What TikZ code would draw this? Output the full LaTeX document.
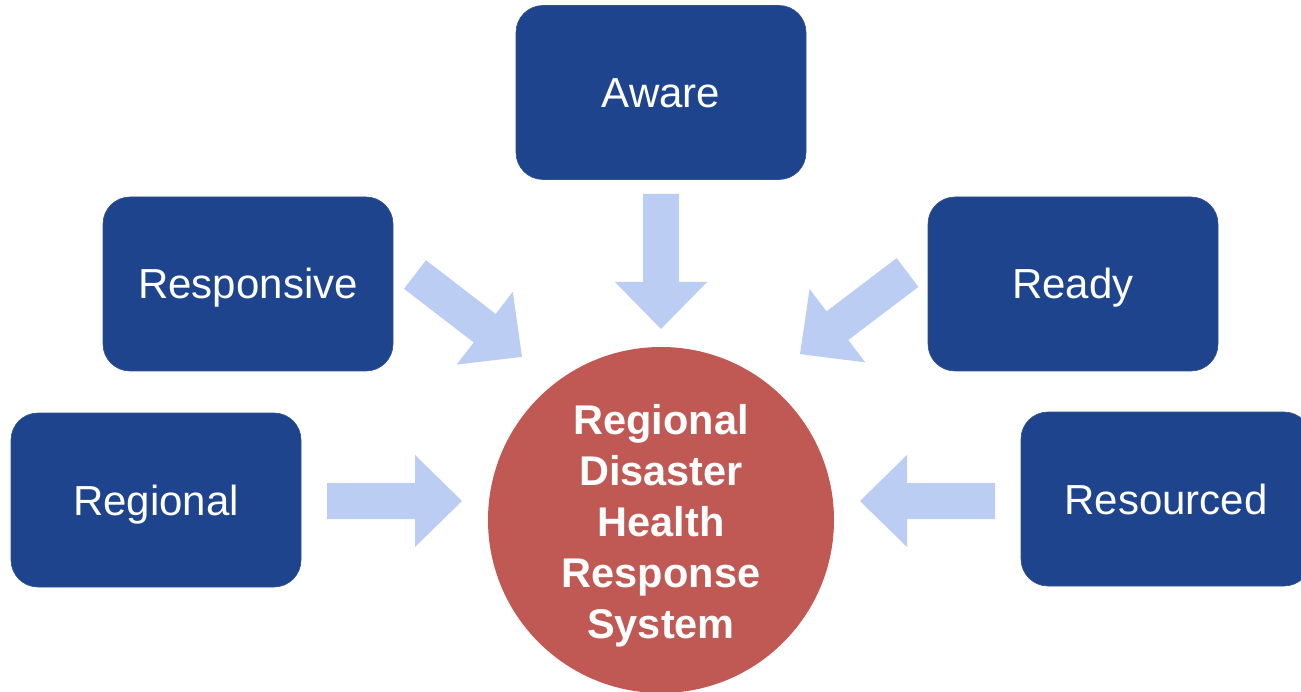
\documentclass[tikz,border=0pt]{standalone}
\usepackage{fontspec}
\setmainfont{Liberation Sans}
\definecolor{boxblue}{RGB}{31,68,142}
\definecolor{arrowblue}{RGB}{187,205,243}
\definecolor{circred}{RGB}{192,88,83}
\tikzset{
  box/.style={rectangle, rounded corners=27pt, fill=boxblue, draw=boxblue!80!gray, line width=0.6pt,
    minimum width=290pt, minimum height=174pt, inner sep=0pt, text=white,
    text height=30pt, text depth=0pt,
    font=\fontsize{42}{50}\selectfont},
  hub/.style={circle, fill=circred, minimum size=346pt, inner sep=0pt},
  hubtext/.style={text=white, align=center, inner sep=0pt,
    font=\fontsize{41.5}{51}\bfseries\selectfont},
  blockarrow/.pic={\fill[arrowblue] (0,-18) -- (88,-18) -- (88,-46) -- (135,0) -- (88,46) -- (88,18) -- (0,18) -- cycle;}
}
\begin{document}
\begin{tikzpicture}[x=1pt,y=-1pt]
\useasboundingbox (0,0) rectangle (1301,692);
\begin{scope}
\clip (0,0) rectangle (1301,692);
\node[box] (aware) at (661,92.5) {Aware};
\node[box] (responsive) at (248,284) {Responsive};
\node[box] (ready) at (1073,284) {Ready};
\node[box] (regional) at (156,500) {Regional};
\node[box] (resourced) at (1166,499) {Resourced};
\node[hub] (hub) at (661,520) {};
\node[hubtext, yshift=-6pt] (hubtext) at (hub.center) {Regional\\Disaster\\Health\\Response\\System};
\coordinate (a1) at (327,501);
\coordinate (a2) at (661,194);
\coordinate (a3) at (415,274.5);
\coordinate (a4) at (907.5,272.5);
\coordinate (a5) at (995,501);
\pic[rotate=0] at (a1) {blockarrow};
\pic[rotate=-90] at (a2) {blockarrow};
\pic[rotate=-37.6] at (a3) {blockarrow};
\pic[rotate=-142.8] at (a4) {blockarrow};
\pic[rotate=180] at (a5) {blockarrow};
\end{scope}
\end{tikzpicture}
\end{document}
